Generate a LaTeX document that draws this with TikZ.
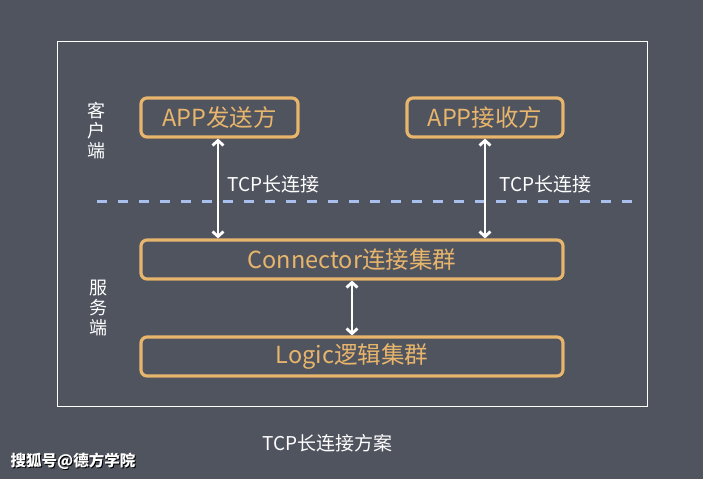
\documentclass[tikz,border=0pt]{standalone}
\usepackage{fontspec}
\setmainfont{Noto Sans CJK SC}
\usetikzlibrary{arrows.meta,shadows}
\definecolor{bg}{HTML}{50545F}
\definecolor{boxcol}{HTML}{E8B56C}
\definecolor{dashcol}{HTML}{A9BFEE}
\tikzset{
  appbox/.style={draw=boxcol, fill=bg, line width=3.2pt, rounded corners=6pt, text=boxcol,
    font=\fontsize{23.5}{26}\selectfont, inner sep=0pt,
    drop shadow={shadow xshift=1.5pt, shadow yshift=-1.5pt, opacity=0.35, fill=black}},
  biarr/.style={draw=white, line width=2.8pt, {Straight Barb[length=5pt,width=11pt]}-{Straight Barb[length=5pt,width=11pt]}},
  lbl/.style={text=white, font=\fontsize{19}{21}\selectfont, inner sep=0pt},
  side/.style={text=white, font=\fontsize{18}{20}\selectfont, align=center, inner sep=0pt}
}
\begin{document}
\begin{tikzpicture}[x=1pt,y=-1pt]
\fill[bg] (0,0) rectangle (703,479);
\useasboundingbox (0,0) rectangle (703,479);
\draw[white, line width=1pt] (57,41) rectangle (647,406);
\draw[dashcol, line width=3pt, dash pattern=on 10pt off 11pt] (97,201) -- (633,201);
\node[appbox, minimum width=157pt, minimum height=39pt] (send) at (219.5,117.5) {APP发送方};
\node[appbox, minimum width=156pt, minimum height=39pt] (recv) at (485,117.5) {APP接收方};
\node[appbox, minimum width=422pt, minimum height=39pt] (conn) at (352,259.5) {Connector连接集群};
\node[appbox, minimum width=422pt, minimum height=39pt] (logic) at (352,356.5) {Logic逻辑集群};
\coordinate (la) at (218,0);
\coordinate (ra) at (485,0);
\coordinate (ma) at (352,0);
\draw[biarr] (send.south -| la) -- (conn.north -| la);
\draw[biarr] (recv.south -| ra) -- (conn.north -| ra);
\draw[biarr] (conn.south -| ma) -- (logic.north -| ma);
\node[lbl, anchor=west] (l1) at (227,184) {TCP长连接};
\node[lbl, anchor=west] (l2) at (499,184) {TCP长连接};
\node[side] (client) at (96,131) {客\\户\\端};
\node[side] (server) at (98,308) {服\\务\\端};
\node[lbl] (cap) at (327.5,443) {TCP长连接方案};
\node[text=black, font=\fontsize{15.5}{18}\bfseries\selectfont, inner sep=0pt] (wms) at (74,462) {搜狐号@德方学院};
\node[text=white, font=\fontsize{15.5}{18}\bfseries\selectfont, inner sep=0pt] (wm) at (73,461) {搜狐号@德方学院};
\end{tikzpicture}
\end{document}
